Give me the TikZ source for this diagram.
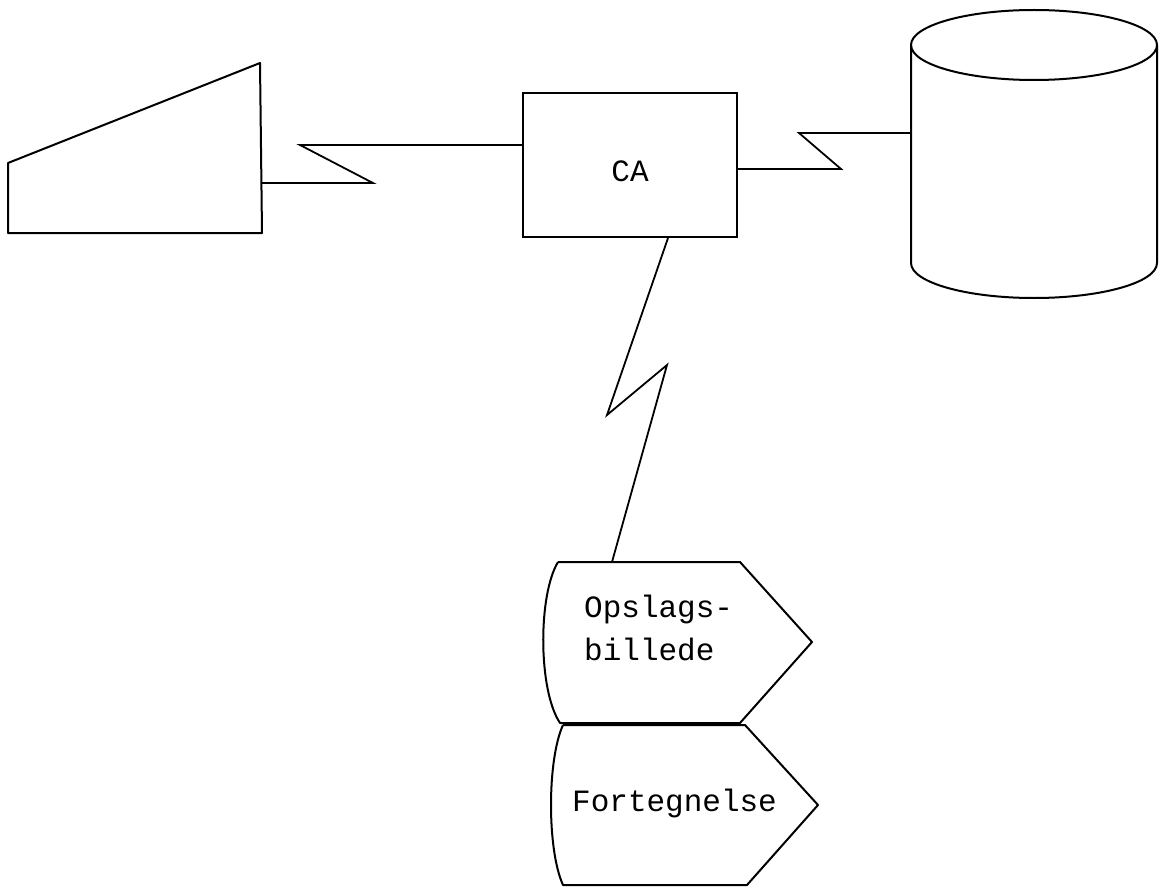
\documentclass[tikz,border=0pt]{standalone}
\usepackage{fontspec}
\setmonofont{Liberation Mono}
\usetikzlibrary{calc}
\tikzstyle{outline} = [line width=2pt, line join=round]
\tikzstyle{cabox} = [rectangle, minimum width=214pt, minimum height=144pt, text height=33pt, text depth=0pt, draw=black, line width=2pt, font=\ttfamily\fontsize{31}{43}\selectfont]
\tikzstyle{doctext} = [inner sep=0pt, align=left, font=\ttfamily\fontsize{31}{43}\selectfont]
\tikzstyle{link} = [line width=1.8pt, line join=miter, -]

\begin{document}
\begin{tikzpicture}[x=1pt, y=-1pt]
  \useasboundingbox (0,0) rectangle (1162,888);

  % terminal
  \draw [outline] (8,163) -- (260,63) -- (262,233) -- (8,233) -- cycle;
  \coordinate (termport) at (261,183);

  % central unit
  \node (ca) [cabox] at (630,165) {CA};

  % data base
  \draw [outline] (911,45) -- (911,263) arc[start angle=180, end angle=0, x radius=123, y radius=35] -- (1157,45);
  \draw [outline] (1034,45) ellipse[x radius=123, y radius=35];
  \coordinate (dbport) at (911,133);

  % displays
  \draw [outline] (558,562) -- (740,562) -- (812,642) -- (740,723) -- (560,723) .. controls (538,690) and (538,595) .. (558,562);
  \draw [outline] (563,725) -- (745,725) -- (818,805) -- (747,885) -- (563,885) .. controls (547,850) and (547,760) .. (563,725);
  \node (opslag) [doctext, anchor=base west] at (584,660) {Opslags-\\billede};
  \node (fortegn) [doctext, anchor=base west] at (572,811) {Fortegnelse};
  \coordinate (opport) at (612,562);

  \draw [link] (termport) -- ++(112,0) -- ++(-73,-38) -- ([yshift=20pt]ca.west);
  \draw [link] ([yshift=-4pt]ca.east) -- ++(103,0) -- ++(-42,-36) -- (dbport);
  \draw [link] ([xshift=38pt]ca.south) -- ++(-61,177) -- ++(60,-50) -- (opport);

\end{tikzpicture}
\end{document}
